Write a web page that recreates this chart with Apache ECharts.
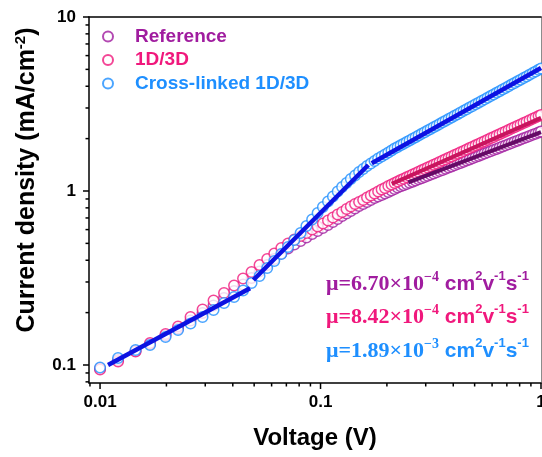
<!DOCTYPE html>
<html>
<head>
<meta charset="utf-8">
<script src="https://cdn.jsdelivr.net/npm/echarts@6/dist/echarts.min.js"></script>
<style>
  html, body { margin: 0; padding: 0; background: #fff; }
  #chart { width: 542px; height: 457px; }
</style>
</head>
<body>
<div id="chart"></div>
<script>
// Applied voltage (V), shared by the three J-V sweeps
const voltage = [
  0.0100, 0.01207, 0.01449, 0.01686, 0.01982, 0.02258, 0.02573, 0.02917, 0.03271, 0.03650, 0.04053, 0.04452, 0.04866,
  0.0529, 0.0573, 0.0617, 0.0664, 0.0712, 0.0761, 0.0812, 0.0863, 0.0916, 0.0970, 0.1025, 0.1081, 0.1138, 0.1196,
  0.1253, 0.1312, 0.1372, 0.1434, 0.1496, 0.1561, 0.1625, 0.1691, 0.1758, 0.1825, 0.1893, 0.1961, 0.2030, 0.2099,
  0.2168, 0.2237,
  0.2308, 0.2381, 0.2457, 0.2535, 0.2616, 0.2699, 0.2785, 0.2874, 0.2965, 0.3059, 0.3157, 0.3257, 0.3361, 0.3468,
  0.3578, 0.3692, 0.3809, 0.3930, 0.4055, 0.4184, 0.4317, 0.4455, 0.4596, 0.4743, 0.4894, 0.5049, 0.5210, 0.5375,
  0.5546, 0.5723, 0.5905, 0.6093, 0.6287, 0.6487, 0.6693, 0.6906, 0.7126, 0.7352, 0.7586, 0.7828, 0.8077, 0.8334,
  0.8599, 0.8873, 0.9155, 0.9446, 0.9747, 1.0000
];

// Current density (mA/cm^2)
const jReference = [
  0.0955, 0.1068, 0.1204, 0.1319, 0.1477, 0.1621, 0.1802, 0.1990, 0.2198, 0.2427, 0.2662, 0.2901, 0.3162,
  0.3446, 0.3756, 0.4066, 0.4371, 0.4672, 0.4926, 0.5160, 0.5404, 0.5660, 0.5890, 0.6129, 0.6378, 0.6635, 0.6903,
  0.7183, 0.7424, 0.7674, 0.7933, 0.8199, 0.8419, 0.8645, 0.8877, 0.9116, 0.9298, 0.9484, 0.9674, 0.9869, 1.0066,
  1.0268, 1.0474,
  1.0637, 1.0803, 1.0971, 1.1143, 1.1316, 1.1493, 1.1672, 1.1854, 1.2040, 1.2228, 1.2419, 1.2613, 1.2810, 1.3010,
  1.3213, 1.3419, 1.3629, 1.3842, 1.4058, 1.4277, 1.4500, 1.4727, 1.4957, 1.5190, 1.5428, 1.5668, 1.5913, 1.6161,
  1.6414, 1.6670, 1.6930, 1.7195, 1.7458, 1.7731, 1.8008, 1.8289, 1.8575, 1.8865, 1.9160, 1.9459, 1.9763, 2.0072,
  2.0385, 2.0703, 2.1027, 2.1355, 2.1689, 2.1980
];
const j1D3D = [
  0.0942, 0.1047, 0.1196, 0.1337, 0.1507, 0.1665, 0.1887, 0.2085, 0.2348, 0.2593, 0.2863, 0.3143, 0.3423,
  0.3756, 0.4066, 0.4371, 0.4703, 0.4991, 0.5263, 0.5513, 0.5736, 0.6008, 0.6250, 0.6504, 0.6767, 0.7041, 0.7326,
  0.7572, 0.7878, 0.8146, 0.8419, 0.8645, 0.8877, 0.9176, 0.9422, 0.9674, 0.9934, 1.0200, 1.0405, 1.0684, 1.0899,
  1.1118, 1.1339,
  1.1551, 1.1765, 1.1984, 1.2207, 1.2433, 1.2665, 1.2900, 1.3140, 1.3384, 1.3633, 1.3886, 1.4145, 1.4408, 1.4675,
  1.4948, 1.5226, 1.5509, 1.5797, 1.6091, 1.6390, 1.6694, 1.7005, 1.7321, 1.7643, 1.7971, 1.8304, 1.8645, 1.8991,
  1.9344, 1.9704, 2.0070, 2.0443, 2.0823, 2.1210, 2.1604, 2.2006, 2.2409, 2.2831, 2.3256, 2.3688, 2.4128, 2.4576,
  2.5033, 2.5499, 2.5972, 2.6455, 2.6947, 2.7347
];
const jCrossLinked = [
  0.0968, 0.1097, 0.1220, 0.1302, 0.1448, 0.1589, 0.1732, 0.1887, 0.2071, 0.2272, 0.2459, 0.2680, 0.2960,
  0.3247, 0.3609, 0.3960, 0.4343, 0.4766, 0.5228, 0.5736, 0.6291, 0.6858, 0.7473, 0.8091, 0.8702, 0.9298, 0.9934,
  1.0544, 1.1118, 1.1720, 1.2275, 1.2857, 1.3381, 1.3922, 1.4391, 1.4875, 1.5375, 1.5788, 1.6212, 1.6646, 1.7092,
  1.7550, 1.7902,
  1.8294, 1.8696, 1.9107, 1.9527, 1.9955, 2.0393, 2.0845, 2.1303, 2.1770, 2.2248, 2.2737, 2.3236, 2.3746, 2.4268,
  2.4801, 2.5345, 2.5902, 2.6470, 2.7052, 2.7646, 2.8253, 2.8874, 2.9508, 3.0156, 3.0818, 3.1495, 3.2186, 3.2893,
  3.3615, 3.4353, 3.5108, 3.5879, 3.6667, 3.7472, 3.8295, 3.9136, 3.9995, 4.0873, 4.1771, 4.2688, 4.3626, 4.4584,
  4.5563, 4.6564, 4.7586, 4.8631, 4.9699, 5.0551
];

// Power-law fits (straight segments on log-log axes): [V, J] end points
const fitReference = [[0.2502, 1.12], [1.0, 2.18]];
const fit1D3D = [[0.2104, 1.10], [1.0, 2.63]];
const fitCrossOhmic = [[0.01087, 0.100], [0.0479, 0.276]];
const fitCrossTrap = [[0.0496, 0.308], [0.1647, 1.411]];
const fitCrossChild = [[0.1707, 1.443], [1.0, 5.09]];

// Axis ranges and ticks
const X_MIN = 0.00891, X_MAX = 1;
const Y_MIN = 0.0788, Y_MAX = 10;
const xMajor = [0.01, 0.1, 1];
const xMajorLabels = ['0.01', '0.1', '1'];
const xMinor = [0.009, 0.02, 0.03, 0.04, 0.05, 0.06, 0.07, 0.08, 0.09,
                0.2, 0.3, 0.4, 0.5, 0.6, 0.7, 0.8, 0.9];
const yMajor = [0.1, 1, 10];
const yMajorLabels = ['0.1', '1', '10'];
const yMinor = [0.08, 0.09, 0.2, 0.3, 0.4, 0.5, 0.6, 0.7, 0.8, 0.9,
                2, 3, 4, 5, 6, 7, 8, 9];

const seriesNames = ['Reference', '1D/3D', 'Cross-linked 1D/3D'];
const mobilityText = ['6.70\u00d710', '8.42\u00d710', '1.89\u00d710'];
const mobilityExp = ['\u22124', '\u22124', '\u22123'];

const C_REF = '#a01c9f';
const C_1D3D = '#f0187c';
const C_CROSS = '#1e8fff';
const C_FIT_REF = '#650a66';
const C_FIT_1D3D = '#c8145e';
const C_FIT_CROSS = '#0c12e2';

const SANS = 'Liberation Sans';
const SERIF = 'Liberation Serif';

function pairs(ys) { return voltage.map((v, i) => [v, ys[i]]); }

function labelFrom(majors, labels) {
  return function (v) {
    const i = majors.findIndex(m => Math.abs(Math.log10(v / m)) < 1e-6);
    return i >= 0 ? labels[i] : '';
  };
}

function scatter(name, ys, color) {
  return {
    name, type: 'scatter', data: pairs(ys),
    symbol: 'circle', symbolSize: 10.5,
    itemStyle: { color: '#fff', borderColor: color, borderWidth: 1.5 },
    emphasis: { disabled: true }, silent: true
  };
}

function fitLine(data, color, width) {
  return {
    type: 'line', data, symbol: 'none', silent: true, z: 4,
    lineStyle: { color, width }
  };
}

// Tick marks drawn outward from the bottom / left axis lines
function ticks(dim, majors, minors) {
  const data = majors.map(v => dim === 'x' ? [v, Y_MIN, 1] : [X_MIN, v, 1])
    .concat(minors.map(v => dim === 'x' ? [v, Y_MIN, 0] : [X_MIN, v, 0]));
  return {
    type: 'custom', data, clip: false, silent: true, z: 6,
    renderItem(params, api) {
      const p = api.coord([api.value(0), api.value(1)]);
      const len = api.value(2) ? 6 : 3.5;
      const shape = dim === 'x'
        ? { x1: p[0], y1: p[1], x2: p[0], y2: p[1] + len }
        : { x1: p[0], y1: p[1], x2: p[0] - len, y2: p[1] };
      return { type: 'line', shape, style: { stroke: '#000', lineWidth: 1.5 } };
    }
  };
}

function mobility(i) {
  return '{m|\u03bc=' + mobilityText[i] + '}{e|' + mobilityExp[i] + '}{u| cm}{s|2}{u|v}{s|-1}{u|s}{s|-1}';
}
function mobilityRich(color) {
  return {
    m: { fontFamily: SERIF, fontWeight: 'bold', fontSize: 22, fill: color, lineHeight: 26, verticalAlign: 'bottom' },
    e: { fontFamily: SERIF, fontWeight: 'bold', fontSize: 14, fill: color, lineHeight: 26, verticalAlign: 'top', padding: [1, 0, 0, 0] },
    u: { fontFamily: SANS, fontWeight: 'bold', fontSize: 21, fill: color, lineHeight: 26, verticalAlign: 'bottom' },
    s: { fontFamily: SANS, fontWeight: 'bold', fontSize: 13, fill: color, lineHeight: 26, verticalAlign: 'top', padding: [1, 0, 0, 0] }
  };
}

const chart = echarts.init(document.getElementById('chart'), null, { renderer: 'canvas' });

const hiddenAxis = {
  axisTick: { show: false }, axisLabel: { show: false }, splitLine: { show: false }, minorTick: { show: false }
};

chart.setOption({
  animation: false,
  backgroundColor: '#fff',
  textStyle: { fontFamily: SANS },
  grid: { left: 89, right: 1, top: 17, bottom: 74, containLabel: false, outerBoundsMode: 'none' },
  legend: {
    orient: 'vertical', left: 97, top: 22, itemWidth: 44, itemHeight: 10, itemGap: 4.5,
    selectedMode: false,
    textStyle: { fontFamily: SANS, fontWeight: 'bold', fontSize: 19 },
    data: [
      { name: seriesNames[0], textStyle: { color: C_REF } },
      { name: seriesNames[1], textStyle: { color: C_1D3D } },
      { name: seriesNames[2], textStyle: { color: C_CROSS } }
    ]
  },
  xAxis: [
    {
      type: 'log', min: X_MIN, max: X_MAX, position: 'bottom',
      axisLine: { lineStyle: { color: '#000', width: 1.5 } },
      axisTick: { show: false }, minorTick: { show: false }, splitLine: { show: false },
      axisLabel: {
        formatter: labelFrom(xMajor, xMajorLabels), margin: 11,
        color: '#000', fontFamily: SANS, fontWeight: 'bold', fontSize: 17
      },
      name: 'Voltage (V)', nameLocation: 'middle', nameGap: 43,
      nameTextStyle: { color: '#000', fontFamily: SANS, fontWeight: 'bold', fontSize: 24 }
    },
    Object.assign({
      type: 'log', min: X_MIN, max: X_MAX, position: 'top',
      axisLine: { lineStyle: { color: '#000', width: 1.5 } }
    }, hiddenAxis)
  ],
  yAxis: [
    {
      type: 'log', min: Y_MIN, max: Y_MAX, position: 'left',
      axisLine: { lineStyle: { color: '#000', width: 1.5 } },
      axisTick: { show: false }, minorTick: { show: false }, splitLine: { show: false },
      axisLabel: {
        formatter: labelFrom(yMajor, yMajorLabels), margin: 13,
        color: '#000', fontFamily: SANS, fontWeight: 'bold', fontSize: 17
      }
    },
    Object.assign({
      type: 'log', min: Y_MIN, max: Y_MAX, position: 'right',
      axisLine: { lineStyle: { color: '#8c8c8c', width: 1 } }
    }, hiddenAxis)
  ],
  graphic: [
    {
      type: 'text', x: 27, y: 180, rotation: Math.PI / 2, silent: true,
      style: {
        text: 'Current density (mA/cm{s|-2})',
        fontFamily: SANS, fontWeight: 'bold', fontSize: 25, fill: '#000',
        align: 'center', verticalAlign: 'middle',
        rich: {
          s: { fontFamily: SANS, fontWeight: 'bold', fontSize: 15, fill: '#000', verticalAlign: 'top', lineHeight: 28 }
        }
      }
    },
    {
      type: 'text', x: 326, y: 282, silent: true,
      style: { text: mobility(0), rich: mobilityRich(C_REF), verticalAlign: 'middle' }
    },
    {
      type: 'text', x: 326, y: 315, silent: true,
      style: { text: mobility(1), rich: mobilityRich(C_1D3D), verticalAlign: 'middle' }
    },
    {
      type: 'text', x: 326, y: 349, silent: true,
      style: { text: mobility(2), rich: mobilityRich(C_CROSS), verticalAlign: 'middle' }
    }
  ],
  series: [
    scatter(seriesNames[0], jReference, C_REF),
    scatter(seriesNames[1], j1D3D, C_1D3D),
    scatter(seriesNames[2], jCrossLinked, C_CROSS),
    fitLine(fitReference, C_FIT_REF, 4),
    fitLine(fit1D3D, C_FIT_1D3D, 4),
    fitLine(fitCrossOhmic, C_FIT_CROSS, 4.5),
    fitLine(fitCrossTrap, C_FIT_CROSS, 4.5),
    fitLine(fitCrossChild, C_FIT_CROSS, 4.5),
    ticks('x', xMajor, xMinor),
    ticks('y', yMajor, yMinor)
  ]
});
</script>
</body>
</html>
